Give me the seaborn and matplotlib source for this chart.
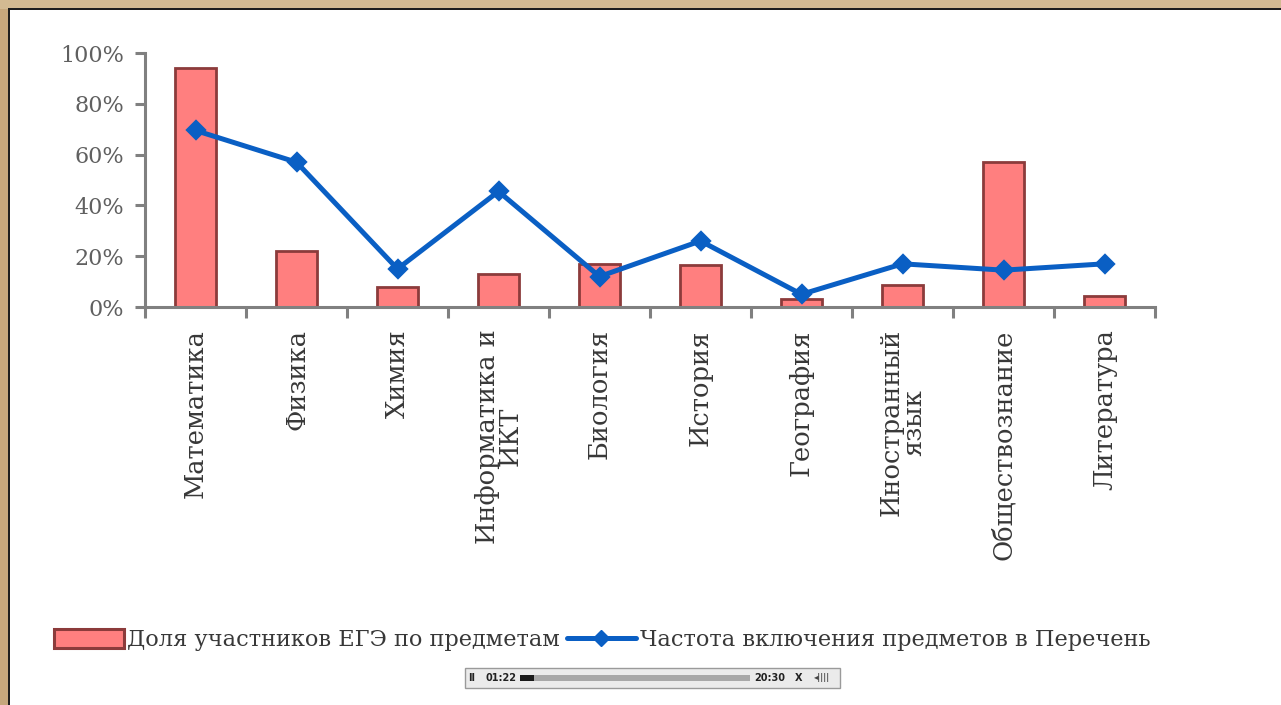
import numpy as np
import pandas as pd
import matplotlib
matplotlib.use("Agg")
import matplotlib.pyplot as plt
import seaborn as sns
from matplotlib.patches import Rectangle, Patch
from matplotlib.lines import Line2D

# ---------------- data ----------------
categories = ["Математика", "Физика", "Химия", "Информатика и\nИКТ", "Биология",
              "История", "География", "Иностранный\nязык", "Обществознание", "Литература"]
share_participants = [94, 22, 8, 13, 17, 16.5, 3, 8.5, 57, 4.5]
inclusion_freq = [69.5, 57, 15, 45.5, 12, 26, 5, 17, 14.5, 17]
y_ticks = [0, 20, 40, 60, 80, 100]
y_tick_labels = ["0%", "20%", "40%", "60%", "80%", "100%"]
legend_labels = ["Доля участников ЕГЭ по предметам",
                 "Частота включения предметов в Перечень"]

W, H = 1281, 705
BAR_FACE = "#FF7F7F"
BAR_EDGE = "#8C3B3B"
LINE_COL = "#0A5FC4"
AX_COL = "#808080"

sns.set_theme(style="white")
plt.rcParams["font.family"] = ["DejaVu Serif"]

fig = plt.figure(figsize=(W / 100, H / 100), dpi=100)
fig.patch.set_facecolor("white")


def box(x0, y0, x1, y1):
    return [x0 / W, 1 - y1 / H, (x1 - x0) / W, (y1 - y0) / H]


# screenshot frame
fig.add_artist(Rectangle((0, 0), 1, 1, transform=fig.transFigure,
                         facecolor="#C6A77C", edgecolor="none", zorder=-5))
fig.add_artist(Rectangle((0, 1 - 9 / H), 1, 9 / H, transform=fig.transFigure,
                         facecolor="#D3BA92", edgecolor="none", zorder=-4))
fig.add_artist(Rectangle((8 / W, 0), 1, 1 - 8 / H, transform=fig.transFigure,
                         facecolor="#1E1E1E", edgecolor="none", zorder=-3))
fig.add_artist(Rectangle((10 / W, 0), 1, 1 - 10 / H, transform=fig.transFigure,
                         facecolor="white", edgecolor="none", zorder=-2))

ax = fig.add_axes(box(145, 53, 1155, 307))
ax.patch.set_alpha(0)

df = pd.DataFrame({"subject": categories, "share": share_participants,
                   "freq": inclusion_freq})

sns.barplot(data=df, x="subject", y="share", color=BAR_FACE, saturation=1,
            edgecolor=BAR_EDGE, linewidth=2.0, width=0.4, ax=ax)
sns.pointplot(data=df, x="subject", y="freq", color=LINE_COL, markers="D",
              errorbar=None, markersize=8, linewidth=3.6, ax=ax)

ax.set_xlim(-0.5, len(categories) - 0.5)
ax.set_ylim(0, 100)
ax.set_yticks(y_ticks)
ax.set_yticklabels(y_tick_labels, fontsize=16, color="#606060")
ax.set_xlabel("")
ax.set_ylabel("")

for s in ["top", "right"]:
    ax.spines[s].set_visible(False)
for s in ["left", "bottom"]:
    ax.spines[s].set_color(AX_COL)
    ax.spines[s].set_linewidth(2.2)

ax.tick_params(axis="y", which="major", left=True, direction="out",
               length=7, width=2.2, color=AX_COL, pad=8)
ax.set_xticks(np.arange(-0.5, len(categories), 1.0), minor=True)
ax.tick_params(axis="x", which="minor", bottom=True, direction="out",
               length=8, width=2.2, color=AX_COL)
ax.tick_params(axis="x", which="major", bottom=False, length=0, pad=16)
ax.set_xticks(range(len(categories)))
ax.set_xticklabels(categories, rotation=90, ha="center", va="top",
                   fontsize=18.5, color="#383838", linespacing=0.9)

# legend
handles = [Patch(facecolor=BAR_FACE, edgecolor=BAR_EDGE, linewidth=2.2),
           Line2D([], [], color=LINE_COL, lw=3.6, marker="D", markersize=8)]
fig.legend(handles, legend_labels, loc="center",
           bbox_to_anchor=(602 / W, 1 - 640 / H), ncol=2, frameon=False,
           fontsize=16.2, handlelength=3.1, handleheight=0.9,
           handletextpad=0.15, columnspacing=0.3, labelcolor="#383838")

# video player strip
fig.add_artist(Rectangle((465 / W, 1 - 688 / H), 375 / W, 20 / H,
                         transform=fig.transFigure, facecolor="#EBEBEB",
                         edgecolor="#9A9A9A", linewidth=1, zorder=5))
fig.add_artist(Rectangle((520 / W, 1 - 681 / H), 230 / W, 6 / H,
                         transform=fig.transFigure, facecolor="#A8A8A8",
                         edgecolor="none", zorder=6))
fig.add_artist(Rectangle((520 / W, 1 - 681 / H), 14 / W, 6 / H,
                         transform=fig.transFigure, facecolor="#1A1A1A",
                         edgecolor="none", zorder=7))
fig.text(472 / W, 1 - 678 / H, "II", fontsize=7, weight="bold",
         family="DejaVu Sans", color="#222222", va="center", ha="center", zorder=8)
fig.text(486 / W, 1 - 678 / H, "01:22", fontsize=7, weight="bold",
         family="DejaVu Sans", color="#222222", va="center", ha="left", zorder=8)
fig.text(754 / W, 1 - 678 / H, "20:30", fontsize=7, weight="bold",
         family="DejaVu Sans", color="#222222", va="center", ha="left", zorder=8)
fig.text(799 / W, 1 - 678 / H, "X", fontsize=7, weight="bold",
         family="DejaVu Sans", color="#222222", va="center", ha="center", zorder=8)
fig.text(822 / W, 1 - 678 / H, "◂||||", fontsize=6, weight="bold",
         family="DejaVu Sans", color="#444444", va="center", ha="center", zorder=8)

fig.savefig("out.png", dpi=100)
